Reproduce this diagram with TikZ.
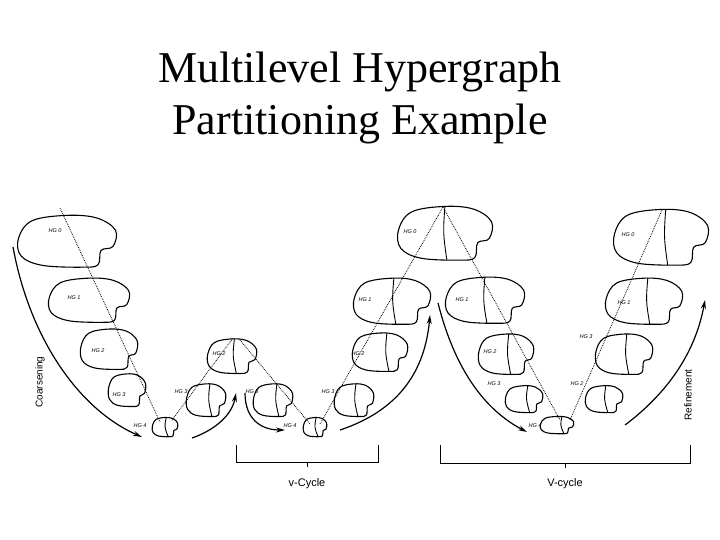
\documentclass[tikz,border=0pt]{standalone}
\usepackage{fontspec}
\setmainfont{Liberation Serif}
\newfontfamily\lsans{Liberation Sans}
\usetikzlibrary{arrows.meta}
\tikzset{
 blobline/.style={line width=1.1pt},
 divline/.style={line width=0.9pt},
 dotl/.style={densely dotted, line width=0.8pt},
 bigarrow/.style={line width=1.2pt,-{Stealth[length=9pt,width=5pt]}},
 hglab/.style={font=\lsans\fontsize{5.5}{6}\selectfont\itshape, inner sep=0pt},
 brk/.style={line width=0.8pt}
}
\newcommand{\blobpath}[4]{plot[smooth cycle, tension=0.6] coordinates {
 ({#1-0.97*#3},{#2-0.1*#4}) ({#1-0.7*#3},{#2-0.75*#4}) ({#1},{#2-0.95*#4})
 ({#1+0.6*#3},{#2-0.85*#4}) ({#1+0.97*#3},{#2-0.4*#4}) ({#1+0.92*#3},{#2+0.2*#4})
 ({#1+0.68*#3},{#2+0.35*#4}) ({#1+0.62*#3},{#2+0.88*#4}) ({#1+0.3*#3},{#2+0.97*#4})
 ({#1-0.5*#3},{#2+0.9*#4}) ({#1-0.92*#3},{#2+0.55*#4})}}
\newcommand{\hgblob}[6]{%
 \path[blobline,draw] \blobpath{#2}{#3}{#4}{#5};
 \coordinate (#1) at (#2,#3);
 \ifx&#6&\else
 \begin{scope}\clip \blobpath{#2}{#3}{#4}{#5};
 \draw[divline] ({#2+#6*#4},{#3-#5}) .. controls ({#2+#6*#4-2},{#3}) .. ({#2+#6*#4+2},{#3+#5});
 \end{scope}\fi}
\begin{document}
\begin{tikzpicture}[x=1pt,y=-1pt]
\useasboundingbox (0,0) rectangle (720,540);
\node[font=\fontsize{44}{46}\selectfont] (t1) at (360,72) {Multilevel Hypergraph};
\node[font=\fontsize{44}{46}\selectfont] (t2) at (360,124) {Partitioning Example};
% left coarsening
\hgblob{a0}{67}{241}{50}{27}{}
\hgblob{a1}{89}{300}{41}{23}{}
\hgblob{a2}{109}{349}{29}{21}{}
\hgblob{a3}{127}{390}{19}{17}{}
\hgblob{a4}{165}{427}{13}{10}{0.1}
\node[hglab] at (55,231) {HG 0};
\node[hglab] at (74,298) {HG 1};
\node[hglab] at (98,351) {HG 2};
\node[hglab] at (119,395) {HG 3};
\node[hglab] at (140,426) {HG 4};
% v-cycle
\hgblob{b3}{206}{400}{20}{17}{0.2}
\hgblob{b2}{232}{356}{25}{18}{0.1}
\hgblob{c3}{273}{400}{20}{17}{0.2}
\hgblob{c4}{315}{427}{12}{10}{0.1}
\hgblob{d3}{354}{400}{20}{17}{0.1}
\node[hglab] at (181,392) {HG 3};
\node[hglab] at (219,354) {HG 2};
\node[hglab] at (252,392) {HG 3};
\node[hglab] at (290,426) {HG 4};
\node[hglab] at (328,392) {HG 3};
% middle
\hgblob{d2}{380}{352}{28}{20}{0.25}
\hgblob{d1}{392}{301}{39}{24}{0.05}
\hgblob{e0}{445}{233}{48}{28}{0.0}
\node[hglab] at (358,354) {HG 2};
\node[hglab] at (365,300) {HG 1};
\node[hglab] at (410,232) {HG 0};
\hgblob{e1}{485}{300}{40}{24}{0.0}
\hgblob{e2}{506}{354}{28}{21}{0.1}
\hgblob{e3}{524}{399}{19}{14}{0.2}
\hgblob{e4}{557}{425}{17}{9}{0.3}
\node[hglab] at (462,300) {HG 1};
\node[hglab] at (490,352) {HG 2};
\node[hglab] at (494,384) {HG 3};
\node[hglab] at (535,426) {HG 4};
\hgblob{f3}{604}{399}{19}{14}{0.1}
\hgblob{f2}{624}{354}{29}{21}{0.1}
\hgblob{f1}{644}{301}{39}{24}{0.1}
\hgblob{f0}{661}{237}{48}{29}{0.1}
\node[hglab] at (577,384) {HG 2};
\node[hglab] at (586,337) {HG 3};
\node[hglab] at (624,303) {HG 1};
\node[hglab] at (628,235) {HG 0};
% dotted chains
\coordinate (p0) at (60,208); \coordinate (p1) at (160,422);
\coordinate (p2) at (172,420); \coordinate (p3) at (233,338);
\coordinate (p4) at (240,340); \coordinate (p5) at (310,424);
\coordinate (p6) at (320,424); \coordinate (p7) at (443,207);
\coordinate (p8) at (560,420); \coordinate (p9) at (570,420);
\coordinate (p10) at (662,210);
\draw[dotl] (p0) -- (p1);
\draw[dotl] (p2) -- (p3);
\draw[dotl] (p4) -- (p5);
\draw[dotl] (p6) -- (p7);
\draw[dotl] (p7) -- (p8);
\draw[dotl] (p9) -- (p10);
% big arrows
\coordinate (s1) at (13,247); \coordinate (s2) at (142,437);
\draw[bigarrow] (s1) .. controls (30,340) and (80,410) .. (s2);
\coordinate (s3) at (192,438); \coordinate (s4) at (236,393);
\draw[bigarrow] (s3) .. controls (215,430) and (232,415) .. (s4);
\coordinate (s5) at (245,393); \coordinate (s6) at (285,430);
\draw[bigarrow] (s5) .. controls (245,420) and (262,430) .. (s6);
\coordinate (s7) at (340,430); \coordinate (s8) at (430,315);
\draw[bigarrow] (s7) .. controls (400,410) and (425,370) .. (s8);
\coordinate (s9) at (438,303); \coordinate (s10) at (527,432);
\draw[bigarrow] (s9) .. controls (455,370) and (485,410) .. (s10);
\coordinate (s11) at (625,425); \coordinate (s12) at (705,300);
\draw[bigarrow] (s11) .. controls (665,395) and (695,355) .. (s12);
\node[font=\lsans\fontsize{10}{12}\selectfont, rotate=90] (co) at (40,382) {Coarsening};
\node[font=\lsans\fontsize{10}{12}\selectfont, rotate=90] (re) at (688,395) {Refinement};
% brackets
\draw[brk] (236,445) -- (236,462) -- (378,462) -- (378,445);
\draw[brk] (307,462) -- (307,467);
\node[font=\lsans\fontsize{11}{13}\selectfont] (vc) at (307,484) {v-Cycle};
\draw[brk] (440,445) -- (440,463) -- (690,463) -- (690,445);
\draw[brk] (565,463) -- (565,468);
\node[font=\lsans\fontsize{11}{13}\selectfont] (Vc) at (565,484) {V-cycle};
\end{tikzpicture}
\end{document}
